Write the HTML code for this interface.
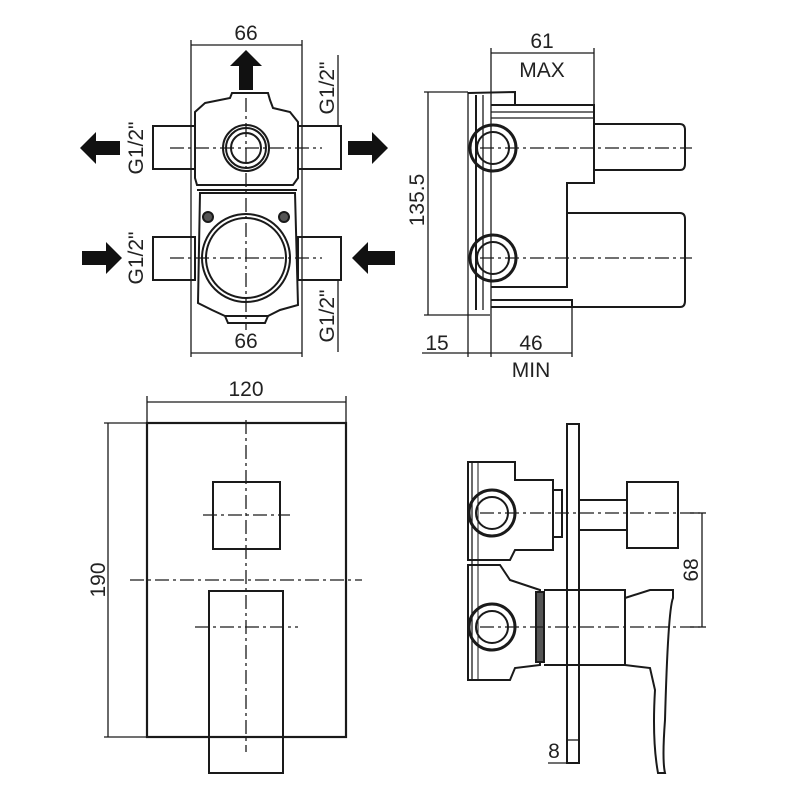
<!DOCTYPE html>
<html><head><meta charset="utf-8"><style>
html,body{margin:0;padding:0;background:#fff;}
svg{display:block;}
text{font-family:"Liberation Sans","DejaVu Sans",sans-serif;fill:#222;}
</style></head><body>
<svg width="800" height="800" viewBox="0 0 800 800" xmlns="http://www.w3.org/2000/svg">
<rect width="800" height="800" fill="#fff"/>
<g fill="none" stroke="#1a1a1a" stroke-width="2">
<!-- ===== TOP LEFT ===== -->
<line x1="191" y1="40" x2="191" y2="357" stroke-width="1.3"/>
<line x1="302" y1="40" x2="302" y2="357" stroke-width="1.3"/>
<line x1="191" y1="45" x2="302" y2="45" stroke-width="1.3"/>
<line x1="191" y1="353" x2="302" y2="353" stroke-width="1.3"/>
<line x1="338" y1="55" x2="338" y2="126" stroke-width="1.3"/>
<line x1="338" y1="280" x2="338" y2="352" stroke-width="1.3"/>
<path d="M205 103 L230 98 L232 93 L268 93 L270 100 L273 108 L290 112 L298 122 L298 178 L293 185 L197 185 L195 178 L195 112 Z"/>
<line x1="197" y1="190" x2="297" y2="190"/>
<path d="M200 193 L295 193 L298 305 L280 310 L268 316 L225 316 L212 310 L198 303 Z"/>
<path d="M225 316 L228 323 L265 323 L268 316"/>
<rect x="153" y="126" width="42" height="43"/>
<rect x="298" y="126" width="43" height="43"/>
<rect x="153" y="237" width="42" height="43"/>
<rect x="298" y="237" width="43" height="43"/>
<circle cx="246" cy="148" r="23"/>
<circle cx="246" cy="148" r="20"/>
<circle cx="246" cy="148" r="15"/>
<circle cx="246" cy="258" r="44"/>
<circle cx="246" cy="258" r="40"/>
<circle cx="208" cy="217" r="5" fill="#555"/>
<circle cx="284" cy="217" r="5" fill="#555"/>
<g stroke-width="1.3" stroke-dasharray="14,4,3,4">
<line x1="170" y1="148" x2="322" y2="148"/>
<line x1="170" y1="258" x2="322" y2="258"/>
<line x1="246" y1="98" x2="246" y2="330"/>
</g>
<!-- ===== TOP RIGHT ===== -->
<line x1="491" y1="48" x2="491" y2="357" stroke-width="1.3"/>
<line x1="594" y1="48" x2="594" y2="105" stroke-width="1.3"/>
<line x1="491" y1="53" x2="594" y2="53" stroke-width="1.3"/>
<line x1="424" y1="92" x2="468" y2="92" stroke-width="1.3"/>
<line x1="424" y1="315" x2="490" y2="315" stroke-width="1.3"/>
<line x1="428" y1="92" x2="428" y2="315" stroke-width="1.3"/>
<line x1="468" y1="92" x2="468" y2="357" stroke-width="1.3"/>
<line x1="572" y1="305" x2="572" y2="357" stroke-width="1.3"/>
<line x1="422" y1="353" x2="572" y2="353" stroke-width="1.3"/>
<line x1="476" y1="95" x2="476" y2="310"/>
<line x1="483" y1="95" x2="483" y2="310" stroke-width="1.3"/>
<path d="M468 93 L515 92 L515 104"/>
<path d="M491 105 L594 105 L594 183 L567 183 L567 287 L491 287"/>
<line x1="491" y1="112" x2="594" y2="112" stroke-width="1.3"/>
<line x1="491" y1="118" x2="594" y2="118" stroke-width="1.3"/>
<path d="M491 300 L572 300 L572 307 L491 307"/>
<path d="M594 124 L680 124 Q685 124 685 130 L685 164 Q685 170 680 170 L594 170"/>
<path d="M567 213 L680 213 Q685 213 685 219 L685 301 Q685 307 680 307 L572 307"/>
<circle cx="493" cy="148" r="23" stroke-width="3"/>
<circle cx="493" cy="148" r="16"/>
<circle cx="493" cy="258" r="23" stroke-width="3"/>
<circle cx="493" cy="258" r="16"/>
<g stroke-width="1.3" stroke-dasharray="14,4,3,4">
<line x1="480" y1="148" x2="692" y2="148"/>
<line x1="480" y1="258" x2="692" y2="258"/>
</g>
<!-- ===== BOTTOM LEFT ===== -->
<line x1="147" y1="396" x2="147" y2="423" stroke-width="1.3"/>
<line x1="346" y1="396" x2="346" y2="423" stroke-width="1.3"/>
<line x1="147" y1="402" x2="346" y2="402" stroke-width="1.3"/>
<line x1="104" y1="423" x2="147" y2="423" stroke-width="1.3"/>
<line x1="104" y1="737" x2="147" y2="737" stroke-width="1.3"/>
<line x1="108" y1="423" x2="108" y2="737" stroke-width="1.3"/>
<rect x="147" y="423" width="199" height="314" stroke-width="2.2"/>
<rect x="213" y="482" width="67" height="67"/>
<rect x="209" y="591" width="74" height="182"/>
<line x1="209" y1="737" x2="283" y2="737"/>
<g stroke-width="1.3" stroke-dasharray="14,4,3,4">
<line x1="130" y1="580" x2="362" y2="580"/>
<line x1="246" y1="420" x2="246" y2="752"/>
<line x1="195" y1="627" x2="298" y2="627"/>
<line x1="203" y1="515" x2="290" y2="515"/>
</g>
<!-- ===== BOTTOM RIGHT ===== -->
<rect x="567" y="424" width="12" height="339"/>
<line x1="567" y1="740" x2="579" y2="740" stroke-width="1.3"/>
<line x1="548" y1="763" x2="579" y2="763" stroke-width="1.3"/>
<path d="M468 462 L515 462 L515 480 L553 480 L553 550 L515 550 L510 560 L468 560 Z"/>
<path d="M553 490 L562 490 L562 537 L553 537"/>
<path d="M468 565 L500 565 L510 580 L540 590 L540 665 L515 668 L510 680 L468 680 Z"/>
<rect x="536" y="592" width="8" height="70" fill="#555"/>
<line x1="472" y1="462" x2="472" y2="680" stroke-width="1.3"/>
<line x1="478" y1="462" x2="478" y2="680" stroke-width="1"/>
<rect x="579" y="500" width="48" height="30"/>
<rect x="627" y="482" width="51" height="66"/>
<path d="M544 590 L625 590 L625 665 L544 665"/>
<path d="M625 598 L650 590 L673 590 L673 598 Q668 610 665 720 Q662 760 665 773 L658 773 Q652 740 655 690 L650 668 L625 665"/>
<line x1="625" y1="598" x2="625" y2="665"/>
<circle cx="492" cy="513" r="23" stroke-width="3"/>
<circle cx="492" cy="513" r="16"/>
<circle cx="492" cy="627" r="23" stroke-width="3"/>
<circle cx="492" cy="627" r="16"/>
<line x1="702" y1="513" x2="702" y2="627" stroke-width="1.3"/>
<line x1="690" y1="513" x2="706" y2="513" stroke-width="1.3"/>
<line x1="690" y1="627" x2="706" y2="627" stroke-width="1.3"/>
<g stroke-width="1.3" stroke-dasharray="14,4,3,4">
<line x1="480" y1="513" x2="700" y2="513"/>
<line x1="480" y1="627" x2="700" y2="627"/>
</g>
</g>
<g fill="#111">
<path d="M246 50 L262 66 L253 66 L253 90 L239 90 L239 66 L230 66 Z"/>
<path d="M80 148 L96 132 L96 141 L120 141 L120 155 L96 155 L96 164 Z"/>
<path d="M388 148 L372 132 L372 141 L348 141 L348 155 L372 155 L372 164 Z"/>
<path d="M122 258 L106 242 L106 251 L82 251 L82 265 L106 265 L106 274 Z"/>
<path d="M352 258 L368 242 L368 251 L395 251 L395 265 L368 265 L368 274 Z"/>
</g>
<g font-size="21">
<text x="246" y="40" text-anchor="middle">66</text>
<text x="246" y="348" text-anchor="middle">66</text>
<text transform="translate(143,148) rotate(-90)" text-anchor="middle">G1/2"</text>
<text transform="translate(143,258) rotate(-90)" text-anchor="middle">G1/2"</text>
<text transform="translate(334,88) rotate(-90)" text-anchor="middle">G1/2"</text>
<text transform="translate(334,316) rotate(-90)" text-anchor="middle">G1/2"</text>
<text x="542" y="48" text-anchor="middle">61</text>
<text x="542" y="77" text-anchor="middle">MAX</text>
<text transform="translate(424,200) rotate(-90)" text-anchor="middle">135.5</text>
<text x="437" y="350" text-anchor="middle">15</text>
<text x="531" y="350" text-anchor="middle">46</text>
<text x="531" y="377" text-anchor="middle">MIN</text>
<text x="246" y="396" text-anchor="middle">120</text>
<text transform="translate(105,580) rotate(-90)" text-anchor="middle">190</text>
<text transform="translate(698,570) rotate(-90)" text-anchor="middle">68</text>
<text x="554" y="758" text-anchor="middle">8</text>
</g>
</svg>
</body></html>
